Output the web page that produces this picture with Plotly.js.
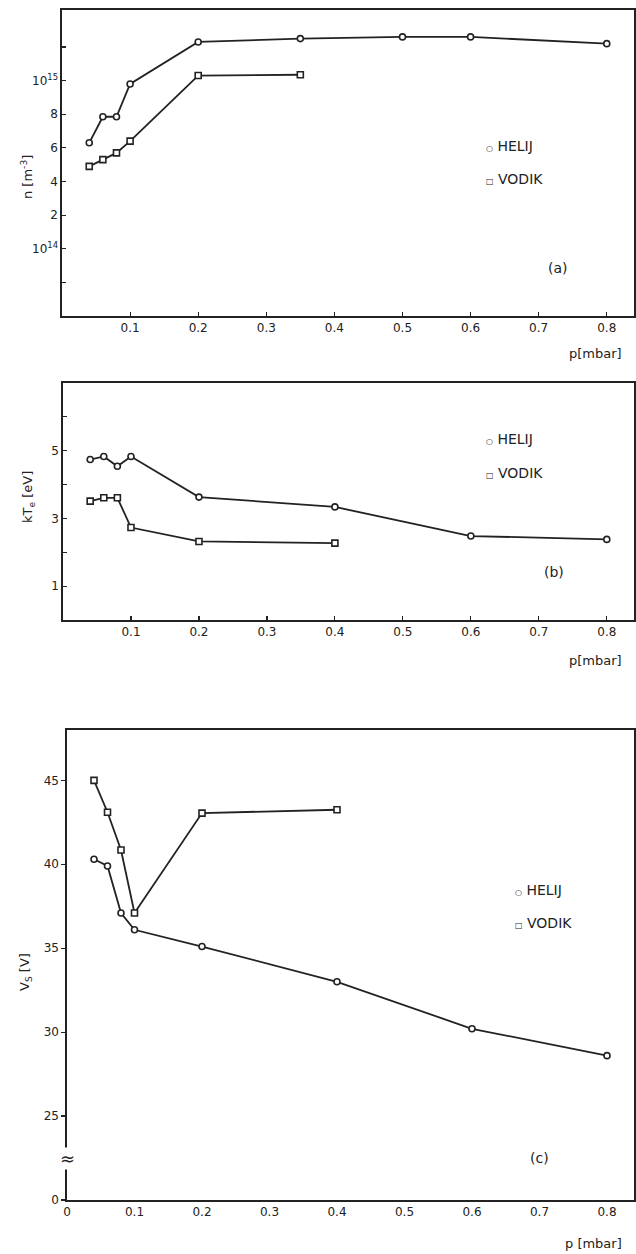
<!DOCTYPE html>
<html>
<head>
<meta charset="utf-8">
<script src="https://cdn.plot.ly/plotly-3.0.1.min.js"></script>
<style>html,body{margin:0;padding:0;background:#fff;}#chart{width:636px;height:1254px;}</style>
</head>
<body>
<div id="chart"></div>
<script>
// Panel (a): electron density n, in units of 10^14 m^-3 (figure's own scale)
const pHelijA = [0.04, 0.06, 0.08, 0.1, 0.2, 0.35, 0.5, 0.6, 0.8];
const nHelij = [6.3, 7.85, 7.85, 9.8, 12.3, 12.5, 12.6, 12.6, 12.2];
const pVodikA = [0.04, 0.06, 0.08, 0.1, 0.2, 0.35];
const nVodik = [4.9, 5.3, 5.7, 6.4, 10.3, 10.35];
const nTickVals = [-2, 0, 2, 4, 6, 8, 10, 12];
const nTickText = ['', '10<sup>14</sup>', '2', '4', '6', '8', '10<sup>15</sup>', ''];

// Panel (b): electron temperature kTe [eV]
const pHelijB = [0.04, 0.06, 0.08, 0.1, 0.2, 0.4, 0.6, 0.8];
const kTeHelij = [4.74, 4.83, 4.54, 4.83, 3.63, 3.34, 2.48, 2.38];
const pVodikB = [0.04, 0.06, 0.08, 0.1, 0.2, 0.4];
const kTeVodik = [3.51, 3.61, 3.61, 2.73, 2.32, 2.27];
const kTeTickVals = [1, 2, 3, 4, 5, 6];
const kTeTickText = ['1', '', '3', '', '5', ''];

// Panel (c): potential Vs [V] (axis broken below 25)
const pHelijC = [0.04, 0.06, 0.08, 0.1, 0.2, 0.4, 0.6, 0.8];
const vsHelij = [40.3, 39.9, 37.1, 36.1, 35.1, 33.0, 30.2, 28.6];
const pVodikC = [0.04, 0.06, 0.08, 0.1, 0.2, 0.4];
const vsVodik = [45.0, 43.1, 40.85, 37.1, 43.05, 43.25];
const vsTickVals = [20, 25, 30, 35, 40, 45];
const vsTickText = ['0', '25', '30', '35', '40', '45'];

const pTickVals = [0.1, 0.2, 0.3, 0.4, 0.5, 0.6, 0.7, 0.8];
const pTickText = ['0.1', '0.2', '0.3', '0.4', '0.5', '0.6', '0.7', '0.8'];
const pTickValsC = [0, 0.1, 0.2, 0.3, 0.4, 0.5, 0.6, 0.7, 0.8];
const pTickTextC = ['0', '0.1', '0.2', '0.3', '0.4', '0.5', '0.6', '0.7', '0.8'];

const seriesNames = ['HELIJ', 'VODIK'];
const yTitles = ['n [m<sup>-3</sup>]', 'kT<sub>e</sub> [eV]', 'V<sub>S</sub> [V]'];
const panelLabels = ['(a)', '(b)', '(c)'];
const xTitles = ['p[mbar]', 'p[mbar]', 'p [mbar]'];

const INK = '#222';
const FONT = 'DejaVu Sans, sans-serif';
const W = 636, H = 1254;
const py = v => 1 - v / H;

function tr(x, y, xa, ya, sym) {
  return {
    x: x, y: y, xaxis: xa, yaxis: ya, type: 'scatter', mode: 'lines+markers',
    line: {color: INK, width: 1.8},
    marker: {symbol: sym, size: 6, color: '#fff', line: {color: INK, width: 1.6}},
    showlegend: false, hoverinfo: 'x+y'
  };
}

const data = [
  tr(pHelijA, nHelij, 'x', 'y', 'circle'),
  tr(pVodikA, nVodik, 'x', 'y', 'square'),
  tr(pHelijB, kTeHelij, 'x2', 'y2', 'circle'),
  tr(pVodikB, kTeVodik, 'x2', 'y2', 'square'),
  tr(pHelijC, vsHelij, 'x3', 'y3', 'circle'),
  tr(pVodikC, vsVodik, 'x3', 'y3', 'square')
];

function xax(dom, anchor, tv, tt, ticks) {
  return {
    domain: dom, anchor: anchor, range: [0, 0.84], showgrid: false, zeroline: false,
    showline: true, mirror: true, linecolor: INK, linewidth: 1.6,
    tickmode: 'array', tickvals: tv, ticktext: tt,
    ticks: ticks, ticklen: 4, tickcolor: INK, tickwidth: 1.2,
    tickfont: {family: FONT, size: 12, color: INK}
  };
}
function yax(dom, anchor, range, tv, tt, ticks) {
  return {
    domain: dom, anchor: anchor, range: range, showgrid: false, zeroline: false,
    showline: true, mirror: true, linecolor: INK, linewidth: 1.6,
    tickmode: 'array', tickvals: tv, ticktext: tt,
    ticks: ticks, ticklen: 4, tickcolor: INK, tickwidth: 1.2,
    tickfont: {family: FONT, size: 12, color: INK}
  };
}

const layout = {
  width: W, height: H,
  margin: {l: 0, r: 0, t: 0, b: 0},
  paper_bgcolor: '#fff', plot_bgcolor: '#fff',
  font: {family: FONT, color: INK},
  xaxis: xax([62 / W, 634 / W], 'y', pTickVals, pTickText, 'inside'),
  yaxis: yax([py(316), py(10)], 'x', [-4, 14.2], nTickVals, nTickText, 'inside'),
  xaxis2: xax([63 / W, 634 / W], 'y2', pTickVals, pTickText, 'inside'),
  yaxis2: yax([py(620), py(383)], 'x2', [0, 7], kTeTickVals, kTeTickText, 'inside'),
  xaxis3: xax([67 / W, 634 / W], 'y3', pTickValsC, pTickTextC, ''),
  yaxis3: yax([py(1200), py(730)], 'x3', [20, 48], vsTickVals, vsTickText, 'outside'),
  annotations: []
};

function legendAnn(xr, yr, x, y1, y2) {
  const f = {family: FONT, size: 14, color: INK};
  return [
    {xref: xr, yref: yr, x: x, y: y1, text: '<span style="font-size:8px">\u25CB</span> ' + seriesNames[0], showarrow: false, xanchor: 'left', font: f},
    {xref: xr, yref: yr, x: x, y: y2, text: '<span style="font-size:8px">\u25A1</span> ' + seriesNames[1], showarrow: false, xanchor: 'left', font: f}
  ];
}
function lab(xr, yr, x, y, t) {
  return {xref: xr, yref: yr, x: x, y: y, text: t, showarrow: false, font: {family: FONT, size: 14, color: INK}};
}
function pLab(yPix, t) {
  return {xref: 'paper', yref: 'paper', x: 624 / W, y: py(yPix), xanchor: 'right', yanchor: 'middle',
    text: t, showarrow: false, font: {family: FONT, size: 13, color: INK}};
}
function yTitle(xPix, yPix, t) {
  return {xref: 'paper', yref: 'paper', x: xPix / W, y: py(yPix), xanchor: 'center', yanchor: 'middle',
    text: t, textangle: -90, showarrow: false, font: {family: FONT, size: 13, color: INK}};
}

layout.annotations.push(
  ...legendAnn('x', 'y', 0.62, 6.1, 4.15),
  ...legendAnn('x2', 'y2', 0.62, 5.35, 4.35),
  ...legendAnn('x3', 'y3', 0.66, 38.45, 36.5),
  lab('x', 'y', 0.729, -1.16, panelLabels[0]),
  lab('x2', 'y2', 0.723, 1.41, panelLabels[1]),
  lab('x3', 'y3', 0.70, 22.5, panelLabels[2]),
  pLab(353, xTitles[0]), pLab(660, xTitles[1]), pLab(1243, xTitles[2]),
  yTitle(27, 177, yTitles[0]), yTitle(29, 497, yTitles[1]), yTitle(25, 972, yTitles[2]),
  {xref: 'x3', yref: 'y3', x: 0, y: 22.5, text: '\u2248', showarrow: false,
   font: {family: FONT, size: 18, color: INK}, bgcolor: '#fff', borderpad: 0}
);

Plotly.newPlot('chart', data, layout, {staticPlot: true, displayModeBar: false});
</script>
</body>
</html>
